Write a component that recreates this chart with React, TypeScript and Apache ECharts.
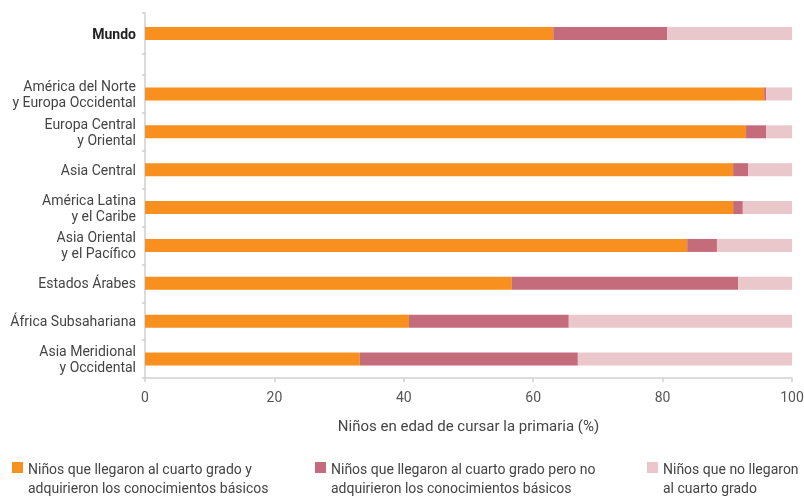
import React, { useEffect, useRef } from "react";
import * as echarts from "echarts";

const worldCategory = ["Mundo"];
const worldAcquired = [63.1];
const worldNotAcquired = [17.6];
const worldNotReached = [19.3];

const regions = [
  "América del Norte\ny Europa Occidental",
  "Europa Central\ny Oriental",
  "Asia Central",
  "América Latina\ny el Caribe",
  "Asia Oriental\ny el Pacífico",
  "Estados Árabes",
  "África Subsahariana",
  "Asia Meridional\ny Occidental",
];
const acquired = [95.7, 92.9, 90.9, 90.9, 83.8, 56.7, 40.8, 33.2];
const notAcquired = [0.3, 3.1, 2.3, 1.5, 4.6, 35.0, 24.7, 33.7];
const notReached = [4.0, 4.0, 6.8, 7.6, 11.6, 8.3, 34.5, 33.1];

const xTicks = { min: 0, max: 100, interval: 20 };
const xName = "Niños en edad de cursar la primaria (%)";
const seriesNames = [
  "Niños que llegaron al cuarto grado y\nadquirieron los conocimientos básicos",
  "Niños que llegaron al cuarto grado pero no\nadquirieron los conocimientos básicos",
  "Niños que no llegaron\nal cuarto grado",
];
const colors = ["#F7901E", "#C46B7C", "#EAC7CB"];

const FONT = "Roboto";

export default function App() {
  const ref = useRef<HTMLDivElement>(null);
  useEffect(() => {
    if (!ref.current) return;
    const chart = echarts.init(ref.current, undefined, { renderer: "svg" });
    const axisLineStyle = { color: "#cfcfcf", width: 1.5 };
    const mk = (name: string, data: number[], color: string, idx: number) => ({
      name,
      type: "bar",
      stack: "s" + idx,
      xAxisIndex: idx,
      yAxisIndex: idx,
      barWidth: 13,
      data,
      itemStyle: { color },
      emphasis: { disabled: true },
    });
    const legendX = [12, 315, 647];
    const graphic: any[] = [
      {
        type: "line",
        shape: { x1: 145, y1: 53, x2: 145, y2: 75 },
        style: { stroke: "#cfcfcf", lineWidth: 1.5 },
      },
    ];
    seriesNames.forEach((n, i) => {
      graphic.push({
        type: "rect",
        shape: { x: legendX[i], y: 462, width: 11, height: 11 },
        style: { fill: colors[i] },
      });
      graphic.push({
        type: "text",
        x: legendX[i] + 16,
        y: 459,
        style: {
          text: n,
          fill: "#444",
          font: `14px ${FONT}`,
          lineHeight: 19,
          textVerticalAlign: "top",
        },
      });
    });
    chart.setOption({
      animation: false,
      textStyle: { fontFamily: FONT },
      grid: [
        { left: 145, right: 12, top: 13, height: 41, outerBoundsMode: "none" },
        { left: 145, right: 12, top: 75, height: 303, outerBoundsMode: "none" },
      ],
      xAxis: [
        { gridIndex: 0, type: "value", ...xTicks, show: false },
        {
          gridIndex: 1,
          type: "value",
          ...xTicks,
          splitLine: { show: false },
          axisLine: { show: true, lineStyle: axisLineStyle },
          axisTick: { show: true, length: 4, lineStyle: axisLineStyle },
          axisLabel: { color: "#555", fontSize: 14, margin: 12 },
          name: xName,
          nameLocation: "middle",
          nameGap: 40,
          nameTextStyle: { color: "#444", fontSize: 15 },
        },
      ],
      yAxis: [
        {
          gridIndex: 0,
          type: "category",
          inverse: true,
          data: worldCategory,
          axisLine: { show: true, lineStyle: axisLineStyle },
          axisTick: { show: true, length: 3, lineStyle: axisLineStyle },
          axisLabel: { color: "#222", fontSize: 14, fontWeight: "bold", margin: 9 },
        },
        {
          gridIndex: 1,
          type: "category",
          inverse: true,
          data: regions,
          axisLine: { show: true, lineStyle: axisLineStyle },
          axisTick: { show: true, length: 3, lineStyle: axisLineStyle },
          axisLabel: { color: "#444", fontSize: 14, margin: 9, lineHeight: 16 },
        },
      ],
      series: [
        mk(seriesNames[0], worldAcquired, colors[0], 0),
        mk(seriesNames[1], worldNotAcquired, colors[1], 0),
        mk(seriesNames[2], worldNotReached, colors[2], 0),
        mk(seriesNames[0], acquired, colors[0], 1),
        mk(seriesNames[1], notAcquired, colors[1], 1),
        mk(seriesNames[2], notReached, colors[2], 1),
      ],
      graphic,
    });
    return () => chart.dispose();
  }, []);
  return (
    <div
      ref={ref}
      style={{ position: "fixed", left: 0, top: 0, width: 804, height: 497 }}
    />
  );
}
